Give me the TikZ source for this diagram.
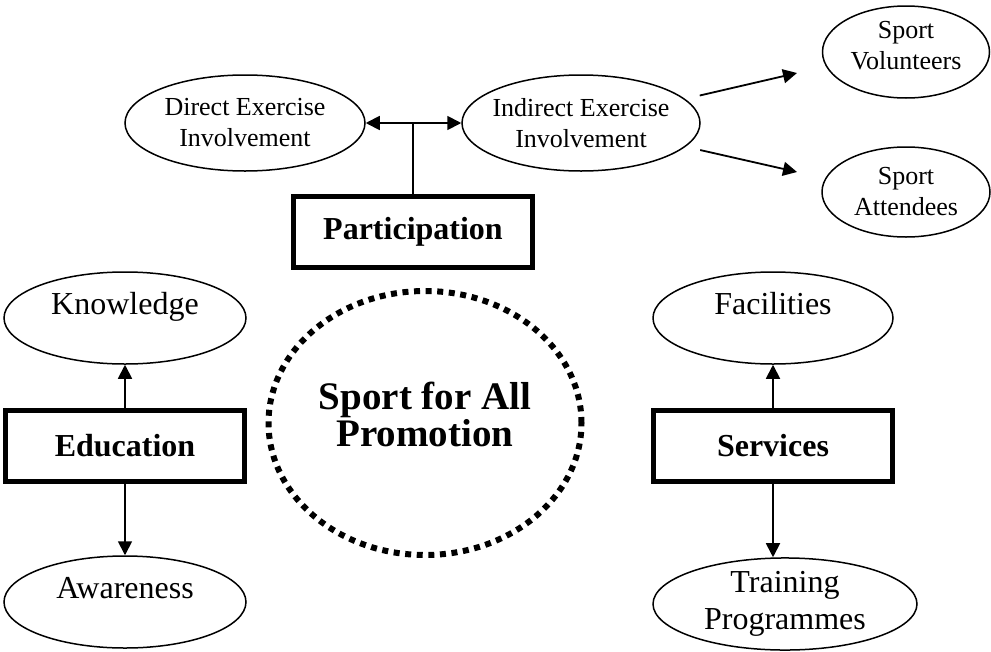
\documentclass[tikz,border=0pt]{standalone}
\usepackage{fontspec}
\setmainfont{Liberation Serif}
\usetikzlibrary{arrows.meta,shapes.geometric}

\begin{document}
\begin{tikzpicture}[x=1pt,y=-1pt,
          every node/.style={font=\fontsize{32}{37}\selectfont, align=center, inner sep=0pt},
          ar/.style={-{Triangle[length=14pt,width=14pt]},line width=1.8pt},
          pillar/.style={draw, line width=5pt, minimum width=239pt, minimum height=71pt,
            font=\fontsize{32}{37}\selectfont\bfseries},
          oval/.style={draw, ellipse, line width=1.5pt, minimum width=242pt, minimum height=92pt},
          small/.style={font=\fontsize{26}{31}\selectfont},
          hub/.style={draw, ellipse, line width=6pt, dash pattern=on 6pt off 5.6pt,
            minimum width=313pt, minimum height=264pt}]
        \useasboundingbox (0,0) rectangle (991,651);
        \node[pillar] (part) at (413,232) {Participation};
        \node[pillar] (edu) at (125,446) {Education};
        \node[pillar] (serv) at (773,446) {Services};
        \node[oval, small, minimum width=240pt, minimum height=96pt]
        (dei) at (245,123) {Direct Exercise\\Involvement};
        \node[oval, small, minimum width=238pt, minimum height=96pt, inner xsep=-8pt]
        (iei) at (581,123) {Indirect Exercise\\Involvement};
        \node[oval, small, minimum width=167pt, minimum height=92pt, text depth=14pt]
        (vol) at (906,52) {Sport\\Volunteers};
        \node[oval, small, minimum width=168pt, minimum height=90pt]
        (att) at (906,192) {Sport\\Attendees};
        \node[oval, text depth=30pt] (know) at (125,318) {Knowledge};
        \node[oval, text depth=28pt] (aware) at (125,602) {Awareness};
        \node[oval, text depth=30pt, minimum width=240pt] (fac) at (773,318) {Facilities};
        \node[oval, minimum width=264pt] (train) at (785,604) {Training\\Programmes};
        \node[hub] (hub) at (425,423) {};
        \node[font=\fontsize{39}{37}\selectfont\bfseries] (hubtxt) at (425,414)
        {Sport for All\\Promotion};
        % participation branches
        \coordinate (jn) at (413,123);
        \coordinate (tovol) at (797,73);
        \coordinate (toatt) at (797,172);
        \draw[line width=1.8pt] (part) -- (jn);
        \draw[ar] (jn) -- (dei); \draw[ar] (jn) -- (iei);
        \draw[ar, shorten <=15pt] (iei) -- (tovol);
        \draw[ar, shorten <=15pt] (iei) -- (toatt);
        % education and services
        \draw[ar] (edu) -- (know); \draw[ar] (edu) -- (aware);
        \draw[ar] (serv) -- (fac);
        \draw[ar] (serv.south) -- (serv.south |- train.north);
      \end{tikzpicture}
\end{document}
